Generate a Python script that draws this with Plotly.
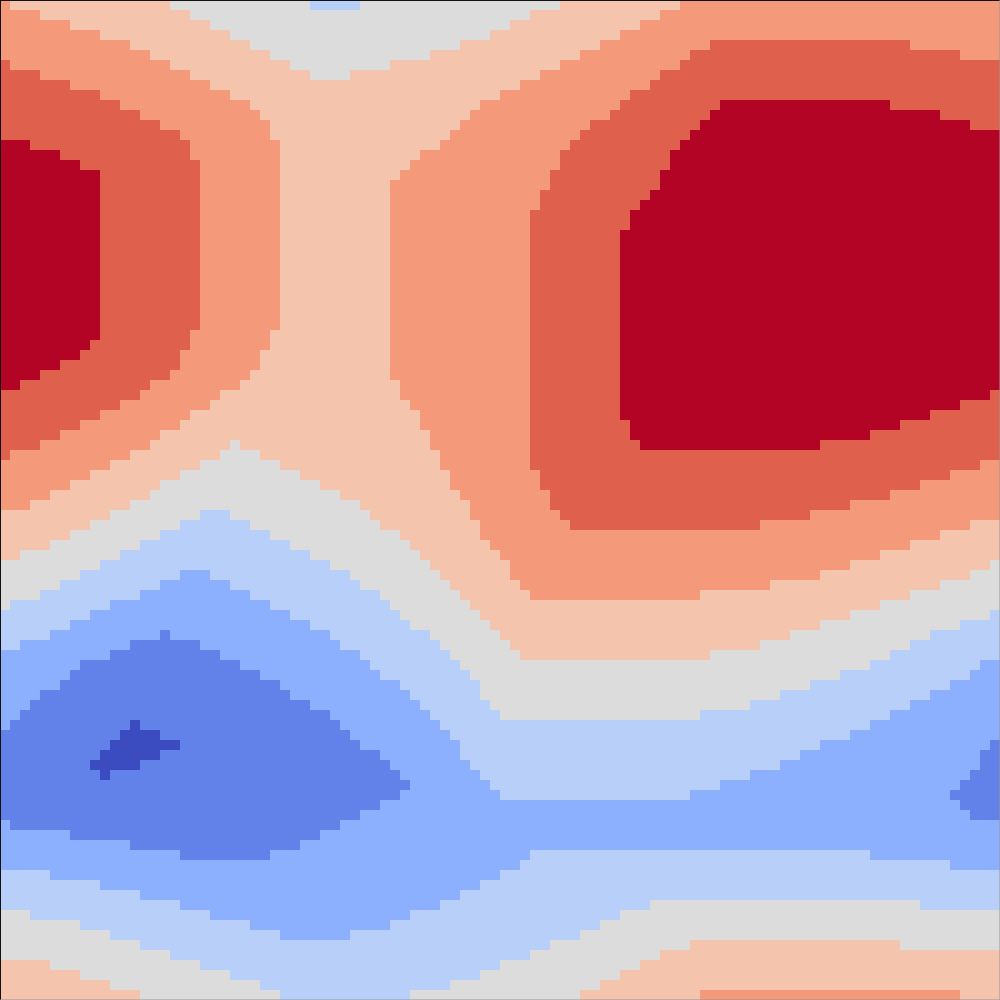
import plotly.graph_objects as go

# Colour of each of the 9 quantised levels (coolwarm, blue -> red)
level_colors = ["#3b4cc0", "#6282ea", "#8db0fe", "#b8d0f9", "#dddcdc",
                "#f5c4ac", "#f49a7b", "#de604d", "#b40426"]

n_cols = 100

# One entry per grid row (top to bottom): "level@first_column" runs
row_runs = [
    "6@0 5@1 4@17 3@31 4@36 5@56 6@68",
    "6@0 5@4 4@19 5@53 6@66",
    "6@0 5@7 4@21 5@51 6@64",
    "6@0 5@10 4@23 5@49 6@62",
    "6@0 5@13 4@25 5@46 6@60 7@71 6@91",
    "6@0 5@15 4@27 5@43 6@58 7@69 6@96",
    "7@0 6@1 5@17 4@29 5@39 6@56 7@68",
    "7@0 6@4 5@19 4@31 5@35 6@54 7@66",
    "7@0 6@7 5@21 6@52 7@65",
    "7@0 6@10 5@23 6@50 7@63",
    "7@0 6@12 5@25 6@48 7@62 8@72 7@89",
    "7@0 6@14 5@26 6@47 7@61 8@71 7@94",
    "7@0 6@16 5@27 6@46 7@59 8@70 7@97",
    "7@0 6@18 5@27 6@45 7@58 8@69",
    "8@0 7@3 6@19 5@28 6@44 7@57 8@68",
    "8@0 7@6 6@19 5@28 6@42 7@56 8@67",
    "8@0 7@8 6@20 5@28 6@41 7@56 8@67",
    "8@0 7@10 6@20 5@28 6@40 7@55 8@66",
    "8@0 7@10 6@20 5@28 6@39 7@55 8@66",
    "8@0 7@10 6@20 5@28 6@39 7@54 8@65",
    "8@0 7@10 6@20 5@28 6@39 7@54 8@64",
    "8@0 7@10 6@20 5@28 6@39 7@53 8@63",
    "8@0 7@10 6@20 5@28 6@39 7@53 8@63",
    "8@0 7@10 6@20 5@28 6@39 7@53 8@62",
    "8@0 7@10 6@20 5@28 6@39 7@53 8@62",
    "8@0 7@10 6@20 5@28 6@39 7@53 8@62",
    "8@0 7@10 6@20 5@28 6@39 7@53 8@62",
    "8@0 7@10 6@20 5@28 6@39 7@53 8@62",
    "8@0 7@10 6@20 5@28 6@39 7@53 8@62",
    "8@0 7@10 6@20 5@28 6@39 7@53 8@62",
    "8@0 7@10 6@20 5@28 6@39 7@53 8@62",
    "8@0 7@10 6@20 5@28 6@39 7@53 8@62",
    "8@0 7@10 6@20 5@28 6@39 7@53 8@62",
    "8@0 7@10 6@19 5@27 6@39 7@53 8@62",
    "8@0 7@9 6@19 5@27 6@39 7@53 8@62",
    "8@0 7@8 6@18 5@26 6@39 7@53 8@62",
    "8@0 7@6 6@18 5@26 6@39 7@53 8@62",
    "8@0 7@4 6@17 5@25 6@39 7@53 8@62",
    "8@0 7@2 6@15 5@24 6@40 7@53 8@62",
    "7@0 6@14 5@22 6@40 7@53 8@62 7@99",
    "7@0 6@12 5@21 6@41 7@53 8@62 7@96",
    "7@0 6@10 5@19 6@42 7@53 8@62 7@93",
    "7@0 6@8 5@18 6@42 7@53 8@63 7@90",
    "7@0 6@6 5@16 6@43 7@53 8@63 7@87",
    "7@0 6@4 5@15 4@23 5@24 6@43 7@53 8@64 7@82",
    "7@0 6@1 5@13 4@22 5@26 6@44 7@53",
    "6@0 5@11 4@20 5@28 6@44 7@53 6@98",
    "6@0 5@9 4@18 5@30 6@45 7@54 6@95",
    "6@0 5@7 4@16 5@32 6@45 7@54 6@92",
    "6@0 5@5 4@15 5@34 6@46 7@55 6@89",
    "6@0 5@3 4@13 5@36 6@47 7@55 6@85",
    "5@0 4@11 3@20 4@23 5@37 6@47 7@56 6@81",
    "5@0 4@9 3@18 4@25 5@38 6@48 7@57 6@76 5@97",
    "5@0 4@7 3@16 4@27 5@40 6@48 5@94",
    "5@0 4@5 3@14 4@29 5@41 6@49 5@91",
    "5@0 4@2 3@12 4@31 5@42 6@50 5@88",
    "4@0 3@10 4@33 5@43 6@51 5@85 4@99",
    "4@0 3@8 2@18 3@21 4@35 5@44 6@51 5@82 4@97",
    "4@0 3@6 2@16 3@23 4@36 5@45 6@52 5@77 4@94",
    "4@0 3@4 2@14 3@25 4@38 5@46 6@53 5@70 4@91",
    "4@0 3@1 2@11 3@27 4@39 5@47 4@88",
    "3@0 2@9 3@29 4@40 5@48 4@85 3@99",
    "3@0 2@7 3@31 4@41 5@49 4@82 3@96",
    "3@0 2@5 1@16 2@17 3@33 4@43 5@50 4@79 3@93",
    "3@0 2@2 1@13 2@20 3@34 4@44 5@51 4@76 3@91",
    "2@0 1@11 2@22 3@36 4@45 5@52 4@71 3@89",
    "2@0 1@8 2@24 3@37 4@46 3@87 2@98",
    "2@0 1@7 2@26 3@38 4@47 3@84 2@97",
    "2@0 1@6 2@28 3@40 4@48 3@81 2@95",
    "2@0 1@4 2@29 3@41 4@48 3@78 2@93",
    "2@0 1@3 2@31 3@42 4@49 3@75 2@91",
    "2@0 1@2 2@33 3@43 4@50 3@70 2@89",
    "2@0 1@1 0@13 1@14 2@34 3@44 2@87",
    "1@0 0@12 1@16 2@35 3@45 2@85",
    "1@0 0@11 1@18 2@36 3@46 2@82 1@99",
    "1@0 0@10 1@16 2@38 3@46 2@80 1@98",
    "1@0 0@9 1@14 2@39 3@47 2@78 1@98",
    "1@0 0@10 1@11 2@40 3@48 2@75 1@97",
    "1@0 2@41 3@49 2@72 1@96",
    "1@0 2@40 3@50 2@69 1@95",
    "1@0 2@38 1@96",
    "1@0 2@36 1@97",
    "2@0 1@1 2@34",
    "2@0 1@7 2@32",
    "2@0 1@13 2@30",
    "2@0 1@18 2@27 3@53 2@87",
    "2@0 3@52 2@95",
    "3@0 2@5 3@50",
    "3@0 2@10 3@48",
    "3@0 2@14 3@46",
    "3@0 2@18 3@44 4@65 3@92",
    "4@0 3@3 2@21 3@41 4@62",
    "4@0 3@8 2@25 3@39 4@60",
    "4@0 3@11 2@28 3@35 4@58",
    "4@0 3@14 4@55 5@69 4@90",
    "4@0 3@17 4@53 5@66",
    "5@0 4@5 3@20 4@50 5@64",
    "5@0 4@8 3@23 4@48 5@62",
    "5@0 4@11 3@26 4@45 5@60",
    "5@0 4@14 3@28 4@41 5@58 6@70 5@96",
]


def expand(runs):
    pairs = [tuple(int(v) for v in tok.split("@")) for tok in runs.split()]
    row = []
    for i, (lvl, start) in enumerate(pairs):
        end = pairs[i + 1][1] if i + 1 < len(pairs) else n_cols
        row.extend([lvl] * (end - start))
    return row


z = [expand(r) for r in row_runs]

n = len(level_colors)
colorscale = []
for i, c in enumerate(level_colors):
    colorscale.append([i / n, c])
    colorscale.append([(i + 1) / n, c])

fig = go.Figure(go.Heatmap(
    z=z,
    x=list(range(n_cols)),
    y=list(range(len(z))),
    zmin=-0.5, zmax=n - 0.5,
    colorscale=colorscale,
    showscale=False,
    hoverinfo="skip",
))

# thin frame: dark on top/left, faint grey on right/bottom
frame = [
    dict(x0=0, x1=1, y0=1, y1=1, color="#111111"),
    dict(x0=0, x1=0, y0=0, y1=1, color="#111111"),
    dict(x0=1, x1=1, y0=0, y1=1, color="rgba(150,150,150,0.5)"),
    dict(x0=0, x1=1, y0=0, y1=0, color="rgba(150,150,150,0.5)"),
]
shapes = [dict(type="line", xref="paper", yref="paper",
               x0=f["x0"], x1=f["x1"], y0=f["y0"], y1=f["y1"],
               line=dict(color=f["color"], width=2)) for f in frame]

fig.update_layout(
    width=1000, height=1000,
    margin=dict(l=0, r=0, t=0, b=0),
    paper_bgcolor="white", plot_bgcolor="white",
    xaxis=dict(visible=False, range=[-0.5, n_cols - 0.5], fixedrange=True),
    yaxis=dict(visible=False, range=[len(z) - 0.5, -0.5], fixedrange=True),
    shapes=shapes,
)

fig.write_html("out.html")
